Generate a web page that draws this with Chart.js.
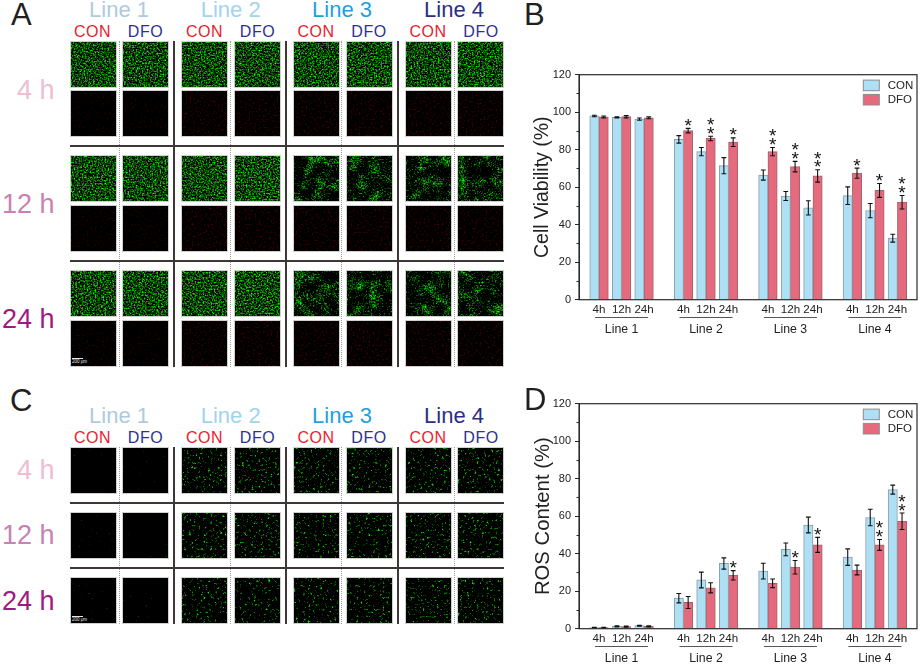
<!DOCTYPE html>
<html>
<head>
<meta charset="utf-8">
<title>Cell viability and ROS content</title>
<script src="https://cdn.jsdelivr.net/npm/chart.js@4"></script>
<style>
  html, body { margin: 0; padding: 0; background: #fff; }
  #page { position: relative; width: 920px; height: 668px; overflow: hidden; font-family: "Liberation Sans", Arial, sans-serif; }
  #page canvas { position: absolute; }
  .txt { position: absolute; line-height: 1; white-space: nowrap; }
  .cell { position: absolute; box-sizing: border-box; border: 1px solid #cfcfcf; background: #000; overflow: hidden; }
  .cell svg { display: block; }
  .rule { position: absolute; background: #3d3835; }
  .dots { position: absolute; width: 0; border-left: 1.5px dotted #9a9a9a; }
  .scalebar { position: absolute; height: 1px; background: #e8e8e8; }
</style>
</head>
<body>
<div id="page">
  <canvas id="chartB" width="390" height="280" style="left:530px;top:60px"></canvas>
  <canvas id="chartD" width="390" height="278" style="left:530px;top:390px"></canvas>
</div>
<script>
const lineNames = ['Line 1', 'Line 2', 'Line 3', 'Line 4'];
const timeLabels = ['4h', '12h', '24h'];
const seriesNames = ['CON', 'DFO'];
const rowLabels = ['4 h', '12 h', '24 h'];
const yTicks = [0, 20, 40, 60, 80, 100, 120];

// panel B, four lines x three time points
const viabilityCon = [98, 97.2, 96.3, 85.5, 79, 71.5, 66.5, 55.3, 49, 55.5, 47.5, 32.8];
const viabilityDfo = [97.5, 97.6, 97, 90.2, 86, 84, 79, 71, 66, 67.5, 58.3, 52];
const viabilityConErr = [0.4, 0.3, 0.6, 2, 2.2, 4.3, 2.7, 2.4, 3.8, 4.7, 3.8, 2.1];
const viabilityDfoErr = [0.5, 0.6, 0.5, 1.2, 1.2, 2.3, 2.2, 2.8, 3.3, 2.7, 3.7, 3.6];
const viabilityStars = [0, 0, 0, 1, 2, 1, 2, 2, 2, 1, 1, 2];

// panel D
const rosCon = [0.6, 1.2, 1.6, 16.3, 26, 34.8, 30.7, 42.3, 55.3, 38.2, 59.3, 74.2];
const rosDfo = [0.6, 1.1, 1.3, 14, 21.8, 28.5, 24.2, 32.8, 44.7, 31.3, 44.7, 57.3];
const rosConErr = [0.2, 0.3, 0.2, 2.5, 4.2, 3, 4.2, 3.4, 4.2, 4.4, 4.4, 2.4];
const rosDfoErr = [0.2, 0.3, 0.3, 3.2, 2.7, 2.5, 2.3, 3.6, 4, 2.6, 2.9, 4.4];
const rosStars = [0, 0, 0, 0, 0, 1, 0, 1, 1, 0, 2, 2];

const inkColor = '#2a2a2a';
const conFill = '#aee0f5';
const dfoFill = '#e56a7d';
const GROUP_STEP = 3.75;

function slotOf(i) {
  return Math.floor(i / 3) * GROUP_STEP + (i % 3);
}

function toPoints(values) {
  return values.map((v, i) => ({ x: slotOf(i), y: v }));
}

// error bars, significance stars, group labels, minor ticks, frame and legend
const panelExtras = {
  id: 'panelExtras',
  afterDatasetsDraw(chart, args, opts) {
    const ctx = chart.ctx;
    const area = chart.chartArea;
    const xs = chart.scales.x;
    const ys = chart.scales.y;
    ctx.save();

    // minor ticks
    ctx.strokeStyle = inkColor;
    ctx.lineWidth = 1;
    for (let v = 10; v < 120; v += 20) {
      const y = Math.round(ys.getPixelForValue(v)) + 0.5;
      ctx.beginPath();
      ctx.moveTo(area.left - 2.5, y);
      ctx.lineTo(area.left, y);
      ctx.stroke();
    }

    // error bars
    ctx.strokeStyle = '#111';
    ctx.lineWidth = 1.1;
    opts.errors.forEach((errs, d) => {
      const bars = chart.getDatasetMeta(d).data;
      const vals = chart.data.datasets[d].data;
      errs.forEach((e, i) => {
        const x = bars[i].x;
        const hi = ys.getPixelForValue(vals[i].y + e);
        const lo = ys.getPixelForValue(vals[i].y - e);
        ctx.beginPath();
        ctx.moveTo(x, hi);
        ctx.lineTo(x, lo);
        ctx.moveTo(x - 2.4, hi);
        ctx.lineTo(x + 2.4, hi);
        ctx.moveTo(x - 2.4, lo);
        ctx.lineTo(x + 2.4, lo);
        ctx.stroke();
      });
    });

    // stars sit above the DFO error bar
    ctx.fillStyle = '#111';
    ctx.font = '19px "Liberation Sans"';
    ctx.textAlign = 'center';
    ctx.textBaseline = 'alphabetic';
    opts.stars.forEach((count, i) => {
      const bar = chart.getDatasetMeta(1).data[i];
      const top = ys.getPixelForValue(chart.data.datasets[1].data[i].y + opts.errors[1][i]);
      for (let s = 0; s < count; s++) {
        ctx.fillText('*', bar.x, top - 7.3 - s * 8.6 + 10.8);
      }
    });

    // group rule and group name under the tick labels
    ctx.fillStyle = '#222';
    ctx.font = '12.3px "Liberation Sans"';
    ctx.textBaseline = 'middle';
    lineNames.forEach((name, g) => {
      const x0 = xs.getPixelForValue(slotOf(g * 3));
      const x1 = xs.getPixelForValue(slotOf(g * 3 + 2));
      ctx.strokeStyle = '#555';
      ctx.lineWidth = 1;
      ctx.beginPath();
      ctx.moveTo(x0 - 4, area.bottom + 17.8);
      ctx.lineTo(x1 + 4, area.bottom + 17.8);
      ctx.stroke();
      ctx.fillText(name, (x0 + x1) / 2, area.bottom + 29.8);
    });

    // frame
    ctx.strokeStyle = inkColor;
    ctx.lineWidth = 1.2;
    ctx.strokeRect(area.left, area.top, area.right - area.left, area.bottom - area.top);

    // legend
    ctx.font = '11.5px "Liberation Sans"';
    ctx.textAlign = 'left';
    ctx.lineWidth = 1;
    chart.data.datasets.forEach((ds, d) => {
      const y = area.top + 5.4 + d * 14.3;
      ctx.fillStyle = ds.backgroundColor;
      ctx.strokeStyle = '#8d8d8d';
      ctx.fillRect(area.right - 53.7, y, 16, 10.6);
      ctx.strokeRect(area.right - 53.7, y, 16, 10.6);
      ctx.fillStyle = '#222';
      ctx.fillText(ds.label, area.right - 29.3, y + 5.6);
    });
    ctx.restore();
  }
};

function makeBarChart(canvasId, yTitle, titleSize, con, dfo, conErr, dfoErr, stars, topPad, xHeight) {
  return new Chart(document.getElementById(canvasId), {
    type: 'bar',
    data: {
      datasets: [
        { label: seriesNames[0], data: toPoints(con), backgroundColor: conFill, borderColor: '#8b9ca5', borderWidth: 1, barThickness: 9.3 },
        { label: seriesNames[1], data: toPoints(dfo), backgroundColor: dfoFill, borderColor: '#a0646e', borderWidth: 1, barThickness: 9.3 }
      ]
    },
    options: {
      responsive: false,
      animation: false,
      layout: { padding: { top: topPad, right: 3, left: 0, bottom: 0 } },
      plugins: {
        legend: { display: false },
        tooltip: { enabled: false },
        panelExtras: { errors: [conErr, dfoErr], stars: stars }
      },
      scales: {
        x: {
          type: 'linear',
          offset: false,
          min: -0.89,
          max: 14.12,
          grid: { display: false, drawTicks: false },
          border: { display: false },
          afterBuildTicks: (scale) => { scale.ticks = con.map((v, i) => ({ value: slotOf(i) })); },
          afterFit: (scale) => { scale.height = xHeight; },
          ticks: {
            autoSkip: false,
            maxRotation: 0,
            padding: 3.5,
            color: '#222',
            font: { family: 'Liberation Sans', size: 11.6 },
            callback: (value, index) => timeLabels[index % 3]
          }
        },
        y: {
          min: 0,
          max: 120,
          grid: { drawOnChartArea: false, tickLength: 4, tickColor: inkColor },
          border: { color: inkColor, width: 1 },
          afterBuildTicks: (scale) => { scale.ticks = yTicks.map((v) => ({ value: v })); },
          afterFit: (scale) => { scale.width = 49; },
          ticks: {
            padding: 4,
            color: '#222',
            font: { family: 'Liberation Sans', size: 11 }
          },
          title: {
            display: true,
            text: yTitle,
            color: '#222',
            font: { family: 'Liberation Sans', size: titleSize },
            padding: { top: 1, bottom: 0 }
          }
        }
      }
    },
    plugins: [panelExtras]
  });
}

makeBarChart('chartB', 'Cell Viability (%)', 19.5, viabilityCon, viabilityDfo, viabilityConErr, viabilityDfoErr, viabilityStars, 14.7, 40.3);
makeBarChart('chartD', 'ROS Content (%)', 20.3, rosCon, rosDfo, rosConErr, rosDfoErr, rosStars, 13.7, 39.3);

// micrograph panels and their captions, plain DOM around the charts
const page = document.getElementById('page');
const cellLefts = [69.5, 122, 181, 234, 292.7, 345.7, 404.7, 457.3];
const captionCenters = [92.5, 145.5, 204.5, 257.5, 316, 369, 428, 481];
const lineCenters = [119, 230.7, 342, 454];
const lineColors = ['#aecadd', '#9fd4ee', '#1f9fe0', '#2b2e86'];
const captionColors = ['#ec1c2e', '#2e3192'];
const rowColors = ['#eebcd3', '#c981b2', '#a01a80'];
let noiseId = 0;

function addText(text, x, y, size, color, anchor) {
  const el = document.createElement('div');
  el.className = 'txt';
  el.textContent = text;
  el.style.cssText = 'left:' + x + 'px;top:' + y + 'px;font-size:' + size + 'px;color:' + color +
    ';transform:translate(' + anchor + ',-50%)';
  page.appendChild(el);
  return el;
}

function addBox(cls, x, y, w, h) {
  const el = document.createElement('div');
  el.className = cls;
  el.style.left = x + 'px';
  el.style.top = y + 'px';
  if (w) el.style.width = w + 'px';
  if (h) el.style.height = h + 'px';
  page.appendChild(el);
  return el;
}

// micrograph texture: svg noise filter, colour matrix decides how bright / sparse the cells are
function addMicrograph(x, y, look) {
  const cell = addBox('cell', x, y, 47, 47);
  const id = 'noise' + (++noiseId);
  const alphaOne = '1 0 0 0 0 0 1 0 0 0 0 0 1 0 0 0 0 0 0 1';
  let body = '<feTurbulence type="fractalNoise" baseFrequency="' + look.freq + '" numOctaves="2" seed="' + noiseId + '" result="fine"/>' +
    '<feColorMatrix in="fine" values="' + alphaOne + '" result="fineOpaque"/>';
  let source = 'fineOpaque';
  if (look.patch) {
    body += '<feTurbulence type="fractalNoise" baseFrequency="0.09" numOctaves="2" seed="' + (noiseId + 50) + '" result="coarse"/>' +
      '<feColorMatrix in="coarse" values="' + alphaOne + '" result="coarseOpaque"/>' +
      '<feComposite in="fineOpaque" in2="coarseOpaque" operator="arithmetic" k1="0" k2="1" k3="' + look.patch + '" k4="' + (-look.patch / 2) + '" result="mixed"/>';
    source = 'mixed';
  }
  body += '<feColorMatrix in="' + source + '" values="' +
    look.red + ' 0 0 0 ' + (-look.red * look.cut) + ' ' +
    look.green + ' 0 0 0 ' + (-look.green * look.cut) + ' ' +
    '0 0 0 0 0 0 0 0 0 1"/>';
  cell.innerHTML = '<svg width="45" height="45" xmlns="http://www.w3.org/2000/svg"><filter id="' + id +
    '" x="0" y="0" width="100%" height="100%" color-interpolation-filters="sRGB">' + body +
    '</filter><rect width="45" height="45" filter="url(#' + id + ')"/></svg>';
}

const lookDense = { freq: 0.62, cut: 0.4, red: 0.2, green: 2.5 };
const lookPatchy = { freq: 0.62, cut: 0.5, red: 0.12, green: 2.2, patch: 0.7 };
const lookRedFaint = { freq: 0.5, cut: 0.6, red: 0.9, green: 0 };
const lookRed = { freq: 0.5, cut: 0.52, red: 0.9, green: 0 };
const lookNone = { freq: 0.4, cut: 0.76, red: 0, green: 2.5 };
const lookSparse = { freq: 0.42, cut: 0.61, red: 0.2, green: 4 };

function addHeaders(lineY, capY) {
  lineNames.forEach((name, i) => addText(name, lineCenters[i], lineY, 22, lineColors[i], '-50%'));
  captionCenters.forEach((x, i) => {
    const el = addText(seriesNames[i % 2], x, capY, 16, captionColors[i % 2], '-50%');
    el.style.letterSpacing = '0.5px';
  });
}

function addRowLabels(ys) {
  rowLabels.forEach((label, i) => addText(label, 54.5, ys[i], 27, rowColors[i], '-100%'));
}

function addDividers(top, bottom, ruleYs) {
  [119.5, 230.5, 342, 454.5].forEach((x) => addBox('dots', x - 0.75, top, 0, bottom - top));
  [174, 286, 398].forEach((x) => addBox('rule', x - 1, top, 2, bottom - top));
  ruleYs.forEach((y) => addBox('rule', 69.5, y - 1, 434.5, 2));
}

function addScaleBar(y) {
  addBox('scalebar', 72, y, 11, 1);
  addText('200 μm', 72, y + 4, 4.5, '#e8e8e8', '0');
}

// panel A: green / red pair per time point
const panelARows = [[41, 90], [155, 205], [270, 320]];
panelARows.forEach((pair, r) => {
  cellLefts.forEach((x, c) => {
    addMicrograph(x, pair[0], c >= 4 && r > 0 ? lookPatchy : lookDense);
    addMicrograph(x, pair[1], c < 2 ? lookRedFaint : lookRed);
  });
});
addHeaders(9.5, 31.5);
addRowLabels([90, 204, 319]);
addDividers(41, 367, [146, 261]);
addScaleBar(358);

// panel C: green only
const panelCRows = [447, 512, 577];
panelCRows.forEach((y) => {
  cellLefts.forEach((x, c) => {
    addMicrograph(x, y, c < 2 ? lookNone : lookSparse);
  });
});
addHeaders(416, 437.5);
addRowLabels([470, 535, 600.5]);
addDividers(447, 624, [502.5, 567.5]);
addScaleBar(616);

// panel letters
addText('A', 11, 14, 31, '#231f20', '0');
addText('B', 524, 14, 31, '#231f20', '0');
addText('C', 10, 400, 31, '#231f20', '0');
addText('D', 524, 399, 31, '#231f20', '0');
</script>
</body>
</html>
